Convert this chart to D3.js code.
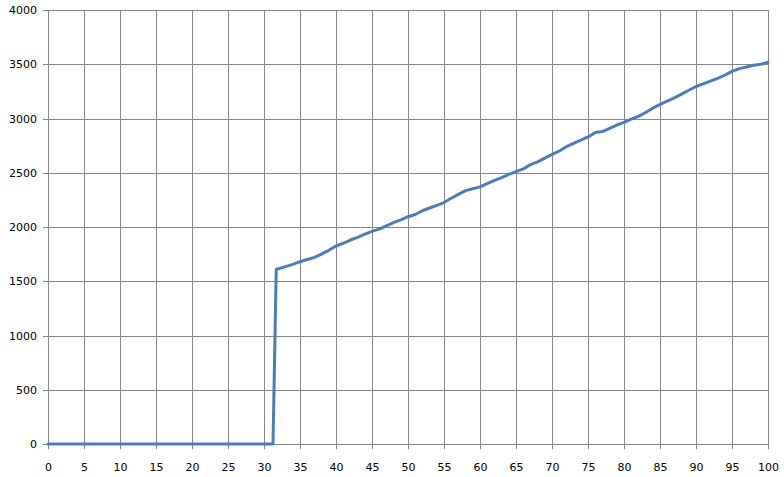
<!DOCTYPE html>
<html>
<head>
<meta charset="utf-8">
<script src="https://cdn.jsdelivr.net/npm/d3@7"></script>
<style>
html,body{margin:0;padding:0;background:#fff;}
svg text{font-family:"DejaVu Sans",Verdana,sans-serif;font-size:11px;fill:#000;}
</style>
</head>
<body>
<svg id="chart" width="784" height="477"></svg>
<script>
const xValues = [0,5,10,15,20,25,30,31.25,31.7,
  32,33,34,35,36,37,38,39,40,41,42,43,44,45,46,47,48,49,50,
  51,52,53,54,55,56,57,58,59,60,61,62,63,64,65,66,67,68,69,70,
  71,72,73,74,75,76,77,78,79,80,81,82,83,84,85,86,87,88,89,90,
  91,92,93,94,95,96,97,98,99,100];
const yValues = [0,0,0,0,0,0,0,0,1610,
  1615,1635,1655,1680,1700,1720,1750,1785,1825,1850,1880,1905,1935,1960,1980,2010,2040,2065,2095,
  2115,2150,2175,2200,2225,2265,2300,2335,2352,2370,2400,2430,2455,2485,2510,2535,2575,2600,2635,2670,
  2700,2740,2770,2800,2830,2870,2880,2910,2940,2965,2995,3020,3055,3095,3130,3160,3190,3225,3260,3295,
  3320,3345,3370,3400,3435,3460,3475,3490,3500,3518];
const xTicks = d3.range(0,101,5);
const yTicks = d3.range(0,4001,500);

const svg = d3.select("#chart");
const x = d3.scaleLinear().domain([0,100]).range([48,768]);
const y = d3.scaleLinear().domain([0,4000]).range([444,10]);
const gridColor = "#868686";

// vertical grid lines with ticks below
svg.append("g").selectAll("line").data(xTicks).join("line")
  .attr("x1",d=>Math.round(x(d))+0.5).attr("x2",d=>Math.round(x(d))+0.5)
  .attr("y1",y(4000)).attr("y2",y(0)+5)
  .attr("stroke",gridColor).attr("stroke-width",1);
// horizontal grid lines with ticks left
svg.append("g").selectAll("line").data(yTicks).join("line")
  .attr("x1",x(0)-5).attr("x2",x(100))
  .attr("y1",d=>Math.round(y(d))+0.5).attr("y2",d=>Math.round(y(d))+0.5)
  .attr("stroke",gridColor).attr("stroke-width",1);

// labels
svg.append("g").selectAll("text").data(xTicks).join("text")
  .attr("x",d=>x(d)+0.5).attr("y",471)
  .attr("text-anchor","middle").text(d=>d);
svg.append("g").selectAll("text").data(yTicks).join("text")
  .attr("x",37).attr("y",d=>y(d)+4)
  .attr("text-anchor","end").text(d=>d);

const data = xValues.map((v,i)=>[v,yValues[i]]);
const line = d3.line().x(d=>x(d[0])).y(d=>y(d[1]));
svg.append("path").datum(data)
  .attr("d",line).attr("fill","none")
  .attr("stroke","#4a7ebb").attr("stroke-width",3)
  .attr("stroke-linejoin","round").attr("stroke-linecap","round");
</script>
</body>
</html>
